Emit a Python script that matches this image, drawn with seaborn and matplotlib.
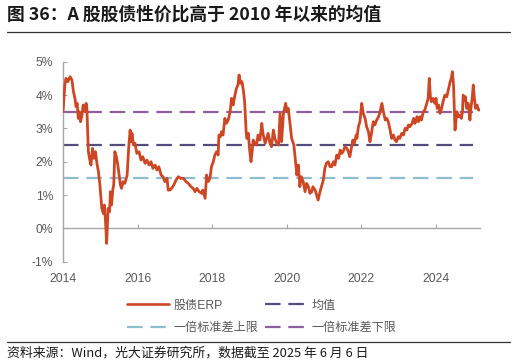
import numpy as np
import pandas as pd
import matplotlib
matplotlib.use("Agg")
import matplotlib.pyplot as plt
from matplotlib.lines import Line2D
import seaborn as sns

# ERP series (decimal year, %)
years = [
    2014.00, 2014.05, 2014.08, 2014.13, 2014.19, 2014.24, 2014.28, 2014.32, 2014.35, 2014.38,
    2014.41, 2014.44, 2014.47, 2014.51, 2014.54, 2014.59, 2014.62, 2014.64, 2014.68, 2014.71,
    2014.75, 2014.79, 2014.83, 2014.87, 2014.91, 2014.95, 2014.99, 2015.04, 2015.08, 2015.11,
    2015.14, 2015.17, 2015.19, 2015.21, 2015.25, 2015.27, 2015.30, 2015.34, 2015.36, 2015.39,
    2015.43, 2015.47, 2015.51, 2015.54, 2015.57, 2015.61, 2015.66, 2015.72, 2015.76, 2015.80,
    2015.83, 2015.85, 2015.89, 2015.93, 2015.98, 2016.04, 2016.09, 2016.14, 2016.20, 2016.25,
    2016.31, 2016.36, 2016.41, 2016.47, 2016.52, 2016.57, 2016.63, 2016.68, 2016.73, 2016.79,
    2016.82, 2016.87, 2016.91, 2016.97, 2017.03, 2017.09, 2017.16, 2017.23, 2017.30, 2017.36,
    2017.43, 2017.49, 2017.54, 2017.59, 2017.65, 2017.72, 2017.75, 2017.81, 2017.85, 2017.89,
    2017.94, 2017.98, 2018.03, 2018.07, 2018.12, 2018.16, 2018.18, 2018.22, 2018.25, 2018.29,
    2018.34, 2018.38, 2018.43, 2018.48, 2018.52, 2018.56, 2018.61, 2018.65, 2018.69, 2018.72,
    2018.76, 2018.80, 2018.84, 2018.87, 2018.91, 2018.93, 2018.97, 2019.00, 2019.04, 2019.07,
    2019.10, 2019.15, 2019.19, 2019.23, 2019.28, 2019.33, 2019.36, 2019.42, 2019.46, 2019.50,
    2019.55, 2019.59, 2019.64, 2019.68, 2019.73, 2019.78, 2019.82, 2019.86, 2019.91, 2019.97,
    2020.01, 2020.04, 2020.09, 2020.13, 2020.19, 2020.25, 2020.27, 2020.31, 2020.35, 2020.39,
    2020.44, 2020.49, 2020.53, 2020.58, 2020.62, 2020.67, 2020.70, 2020.76, 2020.80, 2020.84,
    2020.89, 2020.94, 2020.98, 2021.02, 2021.06, 2021.11, 2021.16, 2021.20, 2021.25, 2021.29,
    2021.34, 2021.39, 2021.43, 2021.47, 2021.51, 2021.56, 2021.61, 2021.65, 2021.69, 2021.73,
    2021.77, 2021.81, 2021.86, 2021.88, 2021.92, 2021.96, 2022.01, 2022.05, 2022.10, 2022.14,
    2022.19, 2022.23, 2022.27, 2022.32, 2022.36, 2022.41, 2022.46, 2022.50, 2022.55, 2022.59,
    2022.64, 2022.68, 2022.72, 2022.77, 2022.81, 2022.86, 2022.90, 2022.94, 2022.99, 2023.03,
    2023.08, 2023.13, 2023.17, 2023.22, 2023.26, 2023.30, 2023.36, 2023.40, 2023.44, 2023.49,
    2023.53, 2023.57, 2023.61, 2023.66, 2023.70, 2023.75, 2023.79, 2023.82, 2023.85, 2023.88,
    2023.92, 2023.97, 2024.00, 2024.03, 2024.07, 2024.11, 2024.15, 2024.20, 2024.24, 2024.29,
    2024.34, 2024.38, 2024.41, 2024.44, 2024.47, 2024.49, 2024.51, 2024.54, 2024.56, 2024.60,
    2024.64, 2024.68, 2024.71, 2024.73, 2024.76, 2024.79, 2024.82, 2024.86, 2024.89, 2024.91,
    2024.93, 2024.97, 2025.00, 2025.03, 2025.06, 2025.10, 2025.14, 2025.16,
]
erp = [
    3.50, 4.30, 4.50, 4.40, 4.55, 4.45, 4.10, 3.90, 3.65, 3.75,
    3.30, 3.50, 3.20, 3.40, 3.70, 3.50, 3.75, 3.60, 2.30, 2.10,
    1.90, 2.40, 2.10, 2.30, 1.95, 1.70, 1.30, 0.60, 0.45, 0.70,
    0.20, -0.45, 0.10, 0.60, 0.50, 1.10, 0.70, 1.20, 1.30, 2.30,
    2.15, 1.90, 1.55, 1.30, 1.20, 1.40, 1.35, 1.60, 2.40, 2.95,
    2.60, 2.85, 2.50, 2.55, 2.25, 2.30, 2.05, 2.15, 1.95, 2.05,
    1.90, 2.00, 1.80, 1.90, 1.75, 1.85, 1.60, 1.55, 1.40, 1.50,
    1.15, 1.15, 1.20, 1.30, 1.45, 1.55, 1.50, 1.50, 1.40, 1.35,
    1.25, 1.20, 1.10, 1.20, 1.10, 1.05, 1.15, 0.90, 1.60, 1.40,
    1.50, 1.85, 2.00, 2.20, 2.30, 2.20, 2.80, 2.75, 2.90, 2.80,
    3.30, 3.15, 3.25, 3.50, 3.90, 3.70, 4.00, 4.20, 4.30, 4.60,
    4.35, 4.40, 4.10, 3.80, 2.90, 2.70, 2.85, 2.40, 2.00, 2.30,
    2.65, 2.55, 2.50, 2.80, 2.65, 3.15, 2.85, 2.55, 2.70, 2.85,
    2.55, 2.45, 2.95, 2.70, 2.55, 2.50, 3.45, 2.60, 3.45, 3.75,
    3.50, 3.60, 3.10, 2.70, 2.50, 1.80, 1.60, 1.90, 1.25, 1.55,
    1.40, 1.10, 1.35, 1.25, 1.05, 1.10, 1.25, 1.15, 1.00, 0.85,
    1.10, 1.30, 1.45, 1.80, 1.95, 2.00, 1.85, 1.85, 2.00, 1.90,
    2.20, 2.10, 2.35, 2.25, 2.30, 2.45, 2.40, 2.30, 2.15, 2.40,
    2.65, 2.55, 2.80, 2.70, 3.05, 3.20, 3.75, 3.45, 3.30, 3.05,
    2.90, 2.60, 2.85, 3.20, 3.10, 3.25, 3.35, 3.50, 3.75, 3.50,
    3.25, 3.30, 3.20, 2.95, 2.70, 2.80, 2.65, 2.60, 2.75, 2.70,
    2.85, 2.80, 3.00, 2.95, 3.10, 3.05, 3.15, 3.30, 3.15, 3.35,
    3.20, 3.35, 3.25, 3.50, 3.55, 3.75, 3.90, 4.50, 3.95, 3.80,
    3.90, 3.75, 3.90, 3.60, 3.70, 3.45, 3.60, 3.85, 4.00, 3.95,
    4.20, 4.40, 4.50, 4.70, 4.30, 3.60, 2.95, 3.30, 3.50, 3.35,
    3.40, 3.30, 3.50, 4.00, 3.85, 3.95, 3.60, 3.75, 3.50, 3.25,
    3.55, 3.90, 4.30, 3.90, 3.60, 3.70, 3.55, 3.55,
]

# reference levels (%)
level_names = ["均值", "一倍标准差上限", "一倍标准差下限"]
level_values = [2.5, 1.5, 3.5]
level_span = [2014.0, 2025.0]

y_ticks = [-1, 0, 1, 2, 3, 4, 5]
x_ticks = [2014, 2016, 2018, 2020, 2022, 2024]

erp_color = "#CE4725"
level_colors = ["#534E7E", "#8FBDD0", "#8E5F9C"]
gray_txt = "#595959"
axis_gray = "#A6A6A6"

sns.set_theme(style="white")
plt.rcParams["font.family"] = ["Liberation Sans", "Noto Sans CJK SC", "DejaVu Sans"]

fig = plt.figure(figsize=(5.16, 3.64), dpi=100)
ax = fig.add_axes([63 / 516, 102.3 / 364, 417 / 516, 200 / 364])

df = pd.DataFrame({"year": years, "erp": erp})

# reference lines first so ERP sits on top
for name, val, col in zip(level_names, level_values, level_colors):
    ax.hlines(val, level_span[0], level_span[1], color=col, lw=1.6,
              linestyles=(0, (7, 3.5)), zorder=2)

sns.lineplot(data=df, x="year", y="erp", ax=ax, color=erp_color, lw=2.0,
             sort=False, estimator=None, zorder=3)

ax.set_xlim(2014, 2025.18)
ax.set_ylim(-1, 5)
ax.set_xlabel("")
ax.set_ylabel("")

for s in ["top", "right"]:
    ax.spines[s].set_visible(False)
ax.spines["left"].set_color(axis_gray)
ax.spines["left"].set_linewidth(1.0)
ax.spines["bottom"].set_color(axis_gray)
ax.spines["bottom"].set_linewidth(1.0)
ax.spines["bottom"].set_position(("data", 0))

ax.set_yticks(y_ticks)
ax.set_yticklabels([f"{t}%" for t in y_ticks])
ax.set_xticks(x_ticks)
ax.set_xticklabels([str(t) for t in x_ticks])
ax.tick_params(axis="y", direction="in", length=3, width=0.8, color=axis_gray,
               pad=7, labelsize=8.7, labelcolor=gray_txt, left=True)
ax.tick_params(axis="x", direction="in", length=3, width=0.8, color=axis_gray,
               pad=32, labelsize=8.7, labelcolor=gray_txt, bottom=True)
ax.grid(False)

# legend: ncol=2 fills column-wise
handles = [
    Line2D([], [], color=erp_color, lw=1.9),
    Line2D([], [], color=level_colors[1], lw=1.6, linestyle=(0, (7, 3.5))),
    Line2D([], [], color=level_colors[0], lw=1.6, linestyle=(0, (7, 3.5))),
    Line2D([], [], color=level_colors[2], lw=1.6, linestyle=(0, (7, 3.5))),
]
labels = ["股债ERP", level_names[1], level_names[0], level_names[2]]
leg = fig.legend(handles, labels, loc="center", bbox_to_anchor=(0.507, 0.13),
                 ncol=2, frameon=False, handlelength=3.5, handletextpad=0.4,
                 columnspacing=0.5, labelspacing=0.85,
                 prop={"family": ["Liberation Sans", "Noto Sans CJK SC"], "size": 8.7})
for t in leg.get_texts():
    t.set_color(gray_txt)

# title, rules and source note
fig.text(7 / 516, 1 - 14.5 / 364, "图 36：A 股股债性价比高于 2010 年以来的均值",
         family=["Noto Sans CJK SC", "DejaVu Sans"], fontsize=12.8, weight="bold",
         color="#1a1a1a", va="center", ha="left")
fig.add_artist(Line2D([7 / 516, 510 / 516], [1 - 31.5 / 364] * 2, color="#333333", lw=0.9))
fig.add_artist(Line2D([7 / 516, 510 / 516], [1 - 342 / 364] * 2, color="#333333", lw=0.9))
fig.text(7 / 516, 1 - 353 / 364, "资料来源：Wind，光大证券研究所，数据截至 2025 年 6 月 6 日",
         family=["Noto Sans CJK SC", "DejaVu Sans"], fontsize=9.3,
         color="#1a1a1a", va="center", ha="left")

fig.savefig("out.png", dpi=100)
